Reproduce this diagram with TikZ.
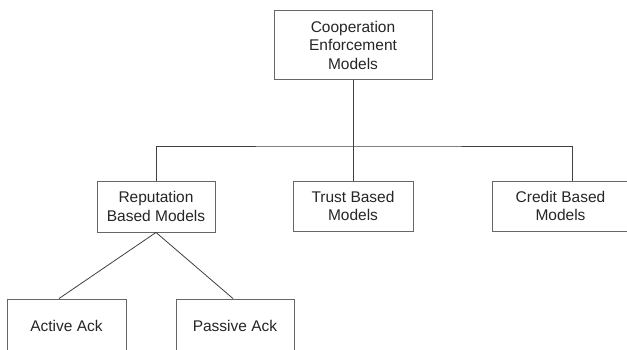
\documentclass[tikz,border=0pt]{standalone}
\usepackage{fontspec}
\setmainfont{Liberation Sans}
\begin{document}
\begin{tikzpicture}[x=1pt,y=1pt,
  box/.style={draw=black!60,line width=0.9pt,fill=white,align=center,inner sep=0pt,
    font=\fontsize{15.5}{18.5}\selectfont,text=black!85},
  link/.style={draw=black!75,line width=0.8pt}]
\useasboundingbox (0,0) rectangle (627,350);
\clip (0,0) rectangle (627,350);
\fill[white] (0,0) rectangle (627,350);
% nodes (y measured from top: y_tikz = 350 - y)
\node[box,minimum width=158,minimum height=69] (top) at (353,305) {Cooperation\\Enforcement\\Models};
\node[box,minimum width=118,minimum height=51] (rep) at (156,143.5) {Reputation\\Based Models};
\node[box,minimum width=120,minimum height=50] (trust) at (353,144) {Trust Based\\Models};
\node[box,minimum width=137,minimum height=50] (cred) at (560.5,144) {Credit Based\\Models};
\node[box,minimum width=119,minimum height=54] (act) at (66.5,24) {Active Ack};
\node[box,minimum width=118,minimum height=54] (pas) at (235,24) {Passive Ack};
\coordinate (bus) at (353,204);
\coordinate (credtop) at (572,169);
% connectors
\draw[link] (top.south) -- (bus);
\draw[link] (rep.north) |- (bus) -| (credtop);
\draw[link] (bus) -- (trust.north);
\draw[link] (rep.south) -- ([xshift=-7.5pt]act.north);
\draw[link] (rep.south) -- ([xshift=-2pt]pas.north);
\end{tikzpicture}
\end{document}
